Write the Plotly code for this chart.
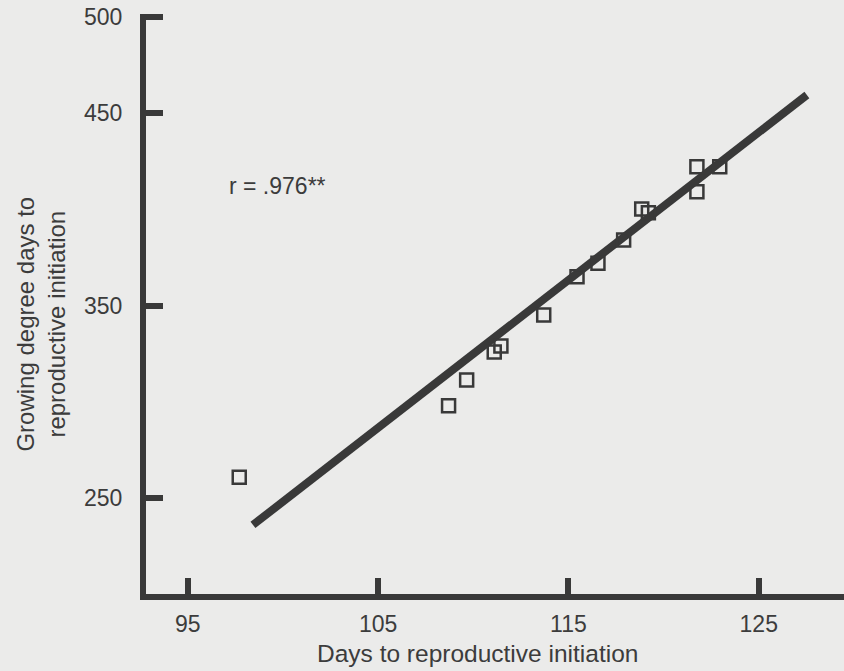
import plotly.graph_objects as go

# Observed points (days to reproductive initiation vs growing degree days)
days = [97.7, 108.7, 109.65, 111.1, 111.45, 113.7, 115.45, 116.55, 117.9, 118.85, 119.2, 121.75, 121.75, 122.95]
gdd = [260.8, 298.0, 311.3, 325.9, 329.0, 345.1, 365.0, 372.0, 384.1, 400.2, 398.3, 422.2, 409.2, 422.2]

# Regression line end points
fit_days = [98.42, 127.53]
fit_gdd = [236.0, 459.5]

x_ticks = [95, 105, 115, 125]
y_ticks = [250, 350, 450, 500]

r_label = "r = .976**"

bg = "#ebebea"
ink = "#393939"
txt = "#3c3c3c"
font_family = "Liberation Sans, Arial, Helvetica, sans-serif"

fig = go.Figure()
fig.add_trace(go.Scatter(
    x=fit_days, y=fit_gdd, mode="lines",
    line=dict(color=ink, width=8), showlegend=False, hoverinfo="skip"))
fig.add_trace(go.Scatter(
    x=days, y=gdd, mode="markers",
    marker=dict(symbol="square-open", size=13, color=ink, line=dict(width=2.5, color=ink)),
    showlegend=False))

fig.add_annotation(x=97.05, y=412.0, xref="x", yref="y", text=r_label,
                   showarrow=False, xanchor="left", yanchor="middle",
                   font=dict(size=23, color=txt, family=font_family))

fig.add_annotation(x=0.475, y=-0.103, xref="paper", yref="paper",
                   text="Days to reproductive initiation", showarrow=False,
                   xanchor="center", yanchor="middle",
                   font=dict(size=24.5, color=txt, family=font_family))
fig.add_annotation(x=-0.15, y=0.465, xref="paper", yref="paper",
                   text="Growing degree days to<br>reproductive initiation", showarrow=False,
                   textangle=-90, xanchor="center", yanchor="middle",
                   font=dict(size=24, color=txt, family=font_family))

fig.update_layout(
    width=844, height=671,
    margin=dict(l=146, r=0, t=14, b=77),
    paper_bgcolor=bg, plot_bgcolor=bg,
    font=dict(family=font_family, size=23, color=txt),
    showlegend=False,
)
fig.update_xaxes(
    range=[92.80, 129.48], tickvals=x_ticks, ticktext=[str(v) for v in x_ticks],
    showgrid=False, zeroline=False, showline=True, linecolor=ink, linewidth=6,
    ticks="inside", ticklen=16, tickwidth=6, tickcolor=ink,
    tickfont=dict(size=23, color=txt), ticklabelstandoff=4,
)
fig.update_yaxes(
    range=[200.1, 501.6], tickvals=y_ticks, ticktext=[str(v) for v in y_ticks],
    showgrid=False, zeroline=False, showline=True, linecolor=ink, linewidth=6,
    ticks="inside", ticklen=17, tickwidth=6, tickcolor=ink,
    tickfont=dict(size=23, color=txt), ticklabelstandoff=13,
)

fig.write_html(
    "out.html",
    config={"displayModeBar": False},
    post_script="document.body.style.margin='0px';document.body.style.background='#ebebea';",
)
